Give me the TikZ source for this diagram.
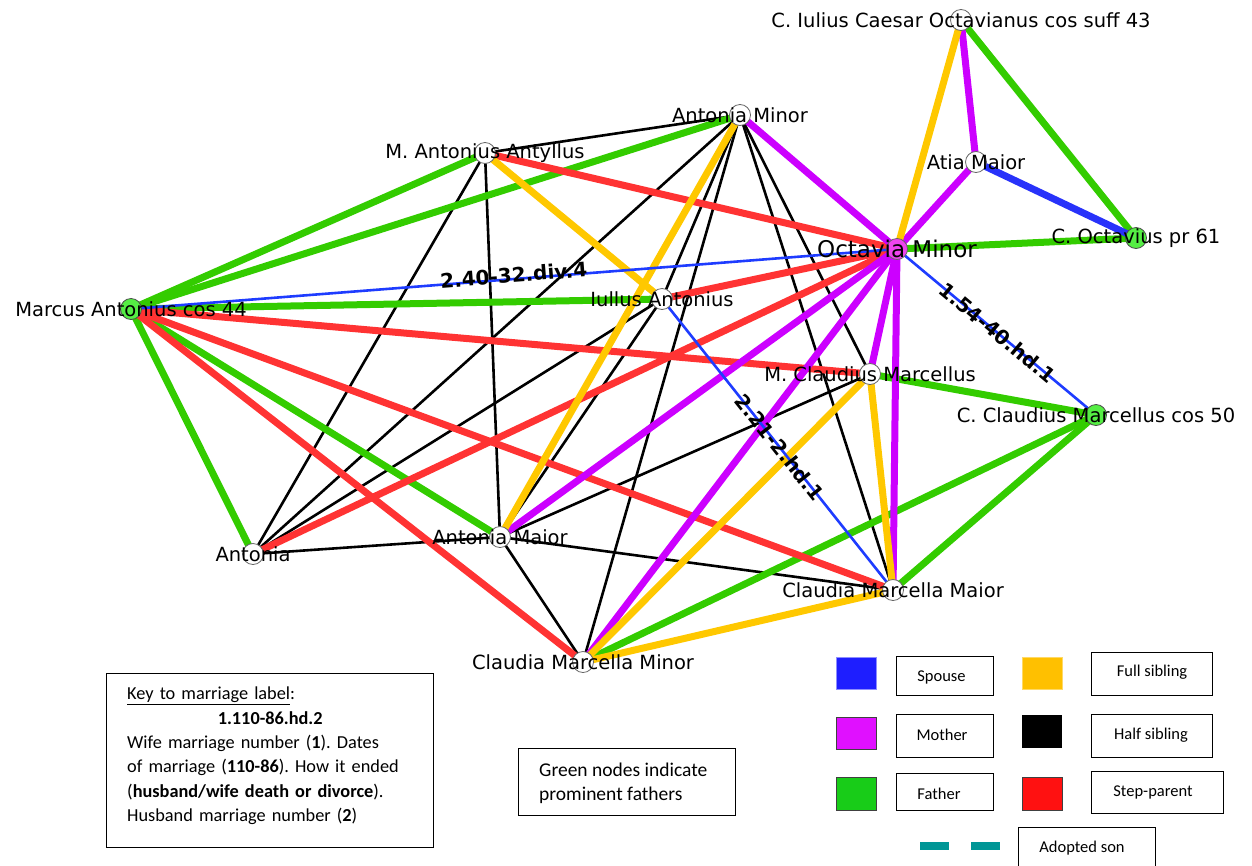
\documentclass[tikz,border=0pt]{standalone}
\usepackage{fontspec}
\setmainfont{DejaVu Sans}
\newfontfamily\calibri{Carlito}
\frenchspacing
\pgfdeclarelayer{edges}
\pgfsetlayers{edges,main}

\definecolor{spouseC}{RGB}{40,50,250}
\definecolor{thinblue}{RGB}{30,60,255}
\definecolor{motherC}{RGB}{204,0,255}
\definecolor{fatherC}{RGB}{51,204,0}
\definecolor{fullC}{RGB}{255,200,0}
\definecolor{stepC}{RGB}{255,51,51}
\definecolor{adoptC}{RGB}{0,150,150}
\definecolor{greennode}{RGB}{85,238,68}
\definecolor{octnode}{RGB}{238,68,238}
\definecolor{swBlue}{RGB}{30,30,255}
\definecolor{swMag}{RGB}{224,16,255}
\definecolor{swGreen}{RGB}{24,204,24}
\definecolor{swYellow}{RGB}{255,192,0}
\definecolor{swRed}{RGB}{255,17,17}

\tikzset{
  person/.style={circle, draw=black!60, fill=white, line width=0.8pt,
                 minimum size=21pt, inner sep=0pt},
  prominent/.style={person, fill=greennode, draw=black!70},
  pname/.style={inner sep=0pt, font=\fontsize{19.5}{19.5}\selectfont},
  bigpname/.style={inner sep=0pt, font=\fontsize{23}{23}\selectfont},
  rel/.style={line width=7pt},
  spouseE/.style={rel, draw=spouseC},
  motherE/.style={rel, draw=motherC},
  fatherE/.style={rel, draw=fatherC},
  fullE/.style={rel, draw=fullC},
  stepE/.style={rel, draw=stepC},
  halfE/.style={line width=2.6pt, draw=black},
  marriage/.style={line width=2.6pt, draw=thinblue},
  mlabel/.style={sloped, inner sep=0pt, text=black,
                 font=\bfseries\fontsize{20}{20}\selectfont},
  legtext/.style={inner sep=0pt, font=\calibri\fontsize{16.5}{16.5}\selectfont},
  textbox/.style={draw=black, line width=0.9pt}
}

\begin{document}
\begin{tikzpicture}[x=1pt, y=-1pt]
\useasboundingbox (0,0) rectangle (1252,865);

% people
\node[person]    (cae)      at (961,20)  {};
\node[person]    (atia)     at (976,162) {};
\node[prominent] (coct)     at (1136,238) {};
\node[person, fill=octnode, draw=black!60] (octmin) at (897,249) {};
\node[person]    (antmin)   at (740,115) {};
\node[person]    (antyllus) at (485,153) {};
\node[person]    (iullus)   at (662,299) {};
\node[prominent] (mant)     at (131,309) {};
\node[person]    (mcm)      at (870,374) {};
\node[prominent] (ccm)      at (1096,415) {};
\node[person]    (antonia)  at (253,554) {};
\node[person]    (antmai)   at (500,537) {};
\node[person]    (cmmai)    at (893,590) {};
\node[person]    (cmmin)    at (583,662) {};

% names, centred on their circles
\node[pname]    (cae-l)      at (cae)      {C. Iulius Caesar Octavianus cos suff 43};
\node[pname]    (atia-l)     at (atia)     {Atia Maior};
\node[pname]    (coct-l)     at (coct)     {C. Octavius pr 61};
\node[bigpname] (octmin-l)   at (octmin)   {Octavia Minor};
\node[pname]    (antmin-l)   at (antmin)   {Antonia Minor};
\node[pname]    (antyllus-l) at (antyllus) {M. Antonius Antyllus};
\node[pname]    (iullus-l)   at (iullus)   {Iullus Antonius};
\node[pname]    (mant-l)     at (mant)     {Marcus Antonius cos 44};
\node[pname]    (mcm-l)      at (mcm)      {M. Claudius Marcellus};
\node[pname]    (ccm-l)      at (ccm)      {C. Claudius Marcellus cos 50};
\node[pname]    (antonia-l)  at (antonia)  {Antonia};
\node[pname]    (antmai-l)   at (antmai)   {Antonia Maior};
\node[pname]    (cmmai-l)    at (cmmai)    {Claudia Marcella Maior};
\node[pname]    (cmmin-l)    at (cmmin)    {Claudia Marcella Minor};

\begin{pgfonlayer}{edges}
  % half siblings
  \foreach \a/\b in {antonia/antyllus, antonia/iullus, antonia/antmai, antonia/antmin,
                     antyllus/antmai, antyllus/antmin, iullus/antmai, iullus/antmin,
                     antmai/mcm, antmai/cmmai, antmai/cmmin,
                     antmin/mcm, antmin/cmmai, antmin/cmmin}
    \draw[halfE] (\a.center) -- (\b.center);
  % fathers
  \foreach \a/\b in {cae/coct, octmin/coct, mant/antyllus, mant/antmin, mant/iullus,
                     mant/antmai, mant/antonia, ccm/mcm, ccm/cmmai, ccm/cmmin}
    \draw[fatherE] (\a.center) -- (\b.center);
  % step-parents
  \foreach \a/\b in {octmin/antyllus, octmin/iullus, octmin/antonia,
                     mant/mcm, mant/cmmai, mant/cmmin}
    \draw[stepE] (\a.center) -- (\b.center);
  % mothers
  \foreach \a/\b in {atia/cae, atia/octmin, octmin/antmin, octmin/antmai,
                     octmin/mcm, octmin/cmmai, octmin/cmmin}
    \draw[motherE] (\a.center) -- (\b.center);
  % full siblings
  \foreach \a/\b in {cae/octmin, antyllus/iullus, antmin/antmai,
                     mcm/cmmai, mcm/cmmin, cmmai/cmmin}
    \draw[fullE] (\a.center) -- (\b.center);
  % spouses
  \draw[spouseE] (atia.center) -- (coct.center);
  \draw[marriage] (mant.center) -- node[mlabel, pos=0.5, above=-5pt] {2.40-32.div.4} (octmin.center);
  \draw[marriage] (octmin.center) -- node[mlabel, pos=0.505] {1.54-40.hd.1} (ccm.center);
  \draw[marriage] (iullus.center) -- node[mlabel, pos=0.51] {2.21-2.hd.1} (cmmai.center);
\end{pgfonlayer}

% key to the marriage labels
\draw[textbox] (106,673) rectangle (433,847);
\node[anchor=north west, inner sep=0pt, text width=286pt, align=left,
      font=\calibri\fontsize{18.3}{24.3}\selectfont] (key) at (127,687)
  {\underline{Key to marriage label}:\\
   \makebox[\linewidth][c]{\bfseries 1.110-86.hd.2}\\
   Wife marriage number (\textbf{1}). Dates\\
   of marriage (\textbf{110-86}). How it ended\\
   (\textbf{husband/wife death or divorce}).\\
   Husband marriage number (\textbf{2})};

% note on the green nodes
\draw[textbox] (518,748) rectangle (735,815);
\node[anchor=north west, inner sep=0pt, align=left,
      font=\calibri\fontsize{19.5}{24}\selectfont] (note) at (539,763)
  {Green nodes indicate\\prominent fathers};

% legend: colour swatches
\fill[swBlue, draw=swBlue!50] (836,657) rectangle (876,689);
\fill[swYellow, draw=swYellow!60] (1022,657) rectangle (1062,689);
\fill[swMag, draw=black!75, line width=0.9pt] (836,717) rectangle (876,749);
\fill[black] (1022,715) rectangle (1062,748);
\fill[swGreen, draw=black!75, line width=0.9pt] (836,777) rectangle (876,810);
\fill[swRed, draw=black!75, line width=0.9pt] (1022,777) rectangle (1062,810);
\fill[adoptC] (920,842) rectangle (949,850);
\fill[adoptC] (971,842) rectangle (1000,850);

% legend: boxes and their texts
\draw[textbox] (896,656) rectangle (993,695);
\node[legtext] (lg-spouse) at (941.5,677) {Spouse};
\draw[textbox] (1091,652) rectangle (1212,695);
\node[legtext] (lg-full) at (1152,672) {Full sibling};
\draw[textbox] (896,714) rectangle (993,757);
\node[legtext] (lg-mother) at (942,735) {Mother};
\draw[textbox] (1091,714) rectangle (1212,757);
\node[legtext] (lg-half) at (1151,735) {Half sibling};
\draw[textbox] (896,773) rectangle (993,810);
\node[legtext] (lg-father) at (939,794) {Father};
\draw[textbox] (1091,771) rectangle (1223,813);
\node[legtext] (lg-step) at (1153,792) {Step-parent};
\draw[textbox] (1018,870) -- (1018,827) -- (1155,827) -- (1155,870);
\node[legtext] (lg-adopt) at (1082,848) {Adopted son};
\end{tikzpicture}
\end{document}
